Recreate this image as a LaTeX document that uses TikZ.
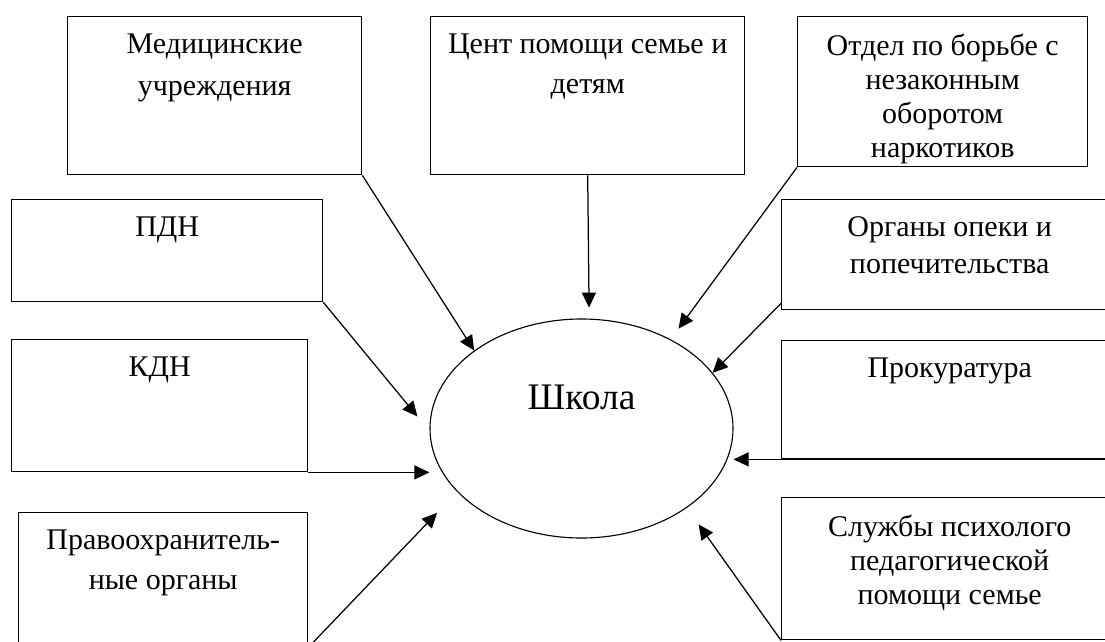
\documentclass[tikz,border=0pt]{standalone}
\usepackage{fontspec}
\setmainfont{Liberation Serif}
\usetikzlibrary{arrows.meta,shapes.geometric}
\begin{document}
\begin{tikzpicture}[x=0.4pt,y=-0.4pt]
\tikzstyle{box} = [rectangle, draw=black, line width=0.55pt, anchor=north west, inner sep=0pt]
\tikzstyle{txt} = [anchor=north, align=center, yshift=-3.6pt, font=\fontsize{12}{16.4}\selectfont]
\tikzstyle{arr} = [line width=0.5pt, -{Triangle[length=6pt,width=5.6pt]}]
\useasboundingbox (0,0) rectangle (1105,641);
\clip (0,0) rectangle (1105,641);
\node (School) [ellipse, draw=black, line width=0.45pt, minimum width=121.2pt, minimum height=87.6pt, inner sep=0pt, label={[anchor=base, yshift=12.6pt, font=\fontsize{15}{18}\selectfont]center:Школа}] at (581.5,428.5) {};
\node (Med) [box, minimum width=117.6pt, minimum height=63.2pt, label={[txt, font=\fontsize{12}{17}\selectfont]north:{Медицинские\\учреждения}}] at (67,16) {};
\node (Cent) [box, minimum width=125.6pt, minimum height=63.2pt, label={[txt, font=\fontsize{12}{16}\selectfont]north:{Цент помощи семье и\\детям}}] at (430,16) {};
\node (Otdel) [box, minimum width=116pt, minimum height=60pt, label={[txt, font=\fontsize{12}{13.6}\selectfont]north:{Отдел по борьбе с\\незаконным\\оборотом\\наркотиков}}] at (797,16) {};
\node (PDN) [box, minimum width=124.4pt, minimum height=40.8pt, label={[txt]north:ПДН}] at (11,199) {};
\node (KDN) [box, minimum width=118.4pt, minimum height=52.8pt, label={[txt]north:КДН}] at (11,339) {};
\node (Pravo) [box, minimum width=115.6pt, minimum height=53.6pt, label={[txt, font=\fontsize{12}{16}\selectfont]north:{Правоохранитель-\\ные органы}}] at (18,512) {};
\node (Organy) [box, minimum width=134.4pt, minimum height=44pt, label={[txt, font=\fontsize{12}{14.8}\selectfont]north:{Органы опеки и\\попечительства}}] at (781,199) {};
\node (Prok) [box, minimum width=134.4pt, minimum height=47.2pt, label={[txt]north:Прокуратура}] at (781,340) {};
\node (Sluzh) [box, minimum width=134.4pt, minimum height=56.8pt, label={[txt, font=\fontsize{12}{13.6}\selectfont]north:{Службы психолого\\педагогической\\помощи семье}}] at (781,497) {};
\draw[arr] (Med.south east) -- (School.144);
\draw[arr, shorten >=4.4pt] (Cent.south) -- (School.86);
\draw[arr, shorten >=5.3pt] (Otdel.south west) -- (School.45);
\draw[arr] ([yshift=2.8pt]Organy.south west) -- (School.23);
\draw[arr, shorten >=7.6pt] (PDN.south east) -- (School.181);
\draw[arr] (KDN.south east) -- (KDN.south east -| School.west);
\draw[arr, shorten >=11.6pt] (Pravo.south east) -- (School.207);
\draw[arr] (Prok.south east) -- (Prok.south west -| School.east);
\draw[arr, shorten >=8.1pt] (Sluzh.south west) -- (School.323);
\end{tikzpicture}
\end{document}
